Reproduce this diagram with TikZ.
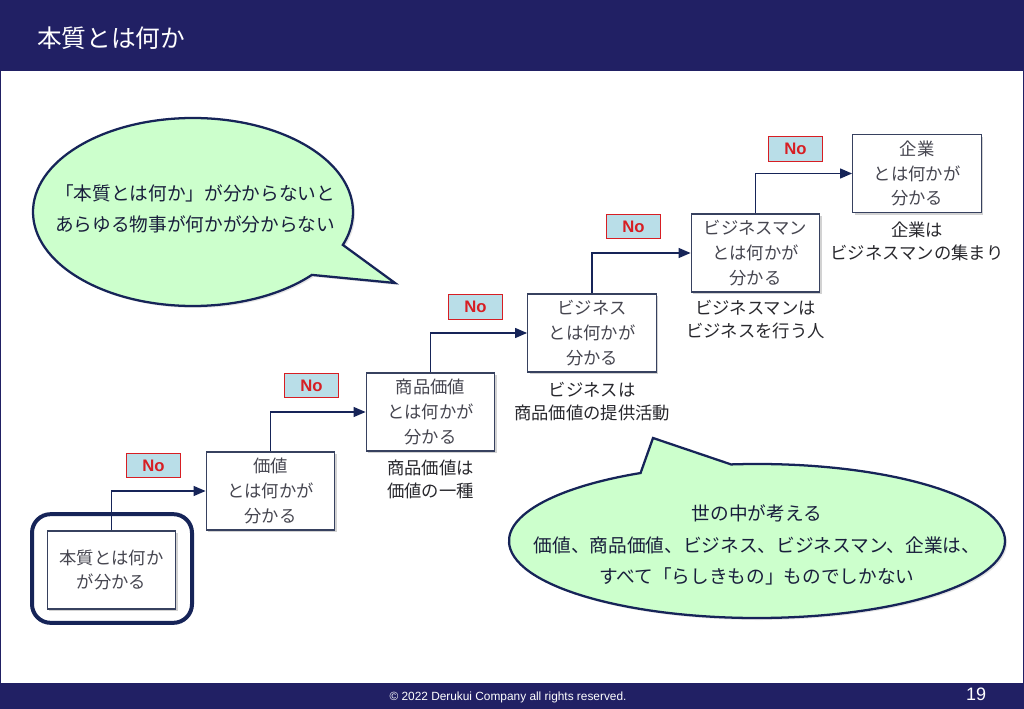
\documentclass[tikz,border=0pt]{standalone}
\usepackage{fontspec}
\setmainfont{Liberation Sans}
\newfontfamily\jp{Noto Sans CJK JP}
\usetikzlibrary{arrows.meta,shadows,calc}
\definecolor{navy}{RGB}{33,32,100}
\definecolor{linec}{RGB}{22,36,88}
\definecolor{boxline}{RGB}{55,65,95}
\definecolor{boxtext}{RGB}{70,70,80}
\definecolor{captext}{RGB}{40,40,45}
\definecolor{calltextc}{RGB}{25,30,60}
\definecolor{calfill}{RGB}{204,255,204}
\definecolor{nofill}{RGB}{185,222,232}
\definecolor{nored}{RGB}{215,30,35}
\tikzset{
  stepbox/.style={draw=boxline, line width=0.9pt, fill=white, minimum width=96.5pt, minimum height=58.5pt,
    inner sep=0pt, align=center, text=boxtext, font=\jp\fontsize{13}{18.5}\selectfont,
    drop shadow={shadow xshift=1.6pt, shadow yshift=-1.6pt, opacity=0.35}},
  nolabel/.style={draw=nored, line width=0.6pt, fill=nofill, minimum width=41pt, minimum height=18.5pt,
    inner sep=0pt, text=nored, font=\bfseries\fontsize{12.5}{14}\selectfont},
  conn/.style={draw=linec, line width=0.9pt, -{Triangle[length=9pt,width=7.5pt]}},
  capt/.style={align=center, text=captext, font=\jp\fontsize{13}{17.5}\selectfont},
  callout/.style={draw=linec, line width=1.7pt, fill=calfill, line join=miter,
    drop shadow={shadow xshift=1.5pt, shadow yshift=-1.5pt, opacity=0.2}},
  calltext/.style={align=center, text=calltextc, font=\jp\fontsize{14}{22.8}\selectfont},
}
\begin{document}
\begin{tikzpicture}[x=0.75pt,y=-0.75pt]
\useasboundingbox (0,0) rectangle (1024,709);
\fill[white] (0,0) rectangle (1024,709);
% title and footer bars
\fill[navy] (0,0) rectangle (1024,71);
\fill[navy] (0,683) rectangle (1024,709);
\draw[navy, line width=2pt] (0,0) rectangle (1024,709);
\node[anchor=west, text=white, font=\jp\fontsize{18.5}{22}\selectfont, inner sep=0pt] (title) at (37,38) {本質とは何か};
\node[text=white, font=\fontsize{8.9}{10}\selectfont, inner sep=0pt] (copy) at (508,697) {© 2022 Derukui Company all rights reserved.};
\node[text=white, font=\fontsize{13.5}{15}\selectfont, inner sep=0pt] (pno) at (976,694) {19};

% callout 1
\path[callout] ($(193,212)+(42:160 and 94)$) arc[start angle=42, end angle=380.5, x radius=160, y radius=94] -- (395,283) -- cycle;
\node[calltext] (t1) at (195,209) {「本質とは何か」が分からないと\\あらゆる物事が何かが分からない};

% callout 2
\path[callout] ($(757,541)+(264:248 and 77)$) arc[start angle=264, end angle=602, x radius=248, y radius=77] -- (653,438) -- cycle;
\node[calltext, font=\jp\fontsize{14}{23.5}\selectfont] (t2) at (757,545) {世の中が考える\\価値、商品価値、ビジネス、ビジネスマン、企業は、\\すべて「らしきもの」ものでしかない};

% highlight round rectangle
\node[draw=linec, line width=3pt, rounded corners=14pt, minimum width=120pt, minimum height=81.5pt, inner sep=0pt] (hl) at (112,568.5) {};

% boxes
\node[stepbox] (b1) at (111.5,570) {本質とは何か\\が分かる};
\node[stepbox] (b2) at (270.5,491) {価値\\とは何かが\\分かる};
\node[stepbox] (b3) at (430.5,412) {商品価値\\とは何かが\\分かる};
\node[stepbox] (b4) at (592,333) {ビジネス\\とは何かが\\分かる};
\node[stepbox] (b5) at (755.5,253) {ビジネスマン\\とは何かが\\分かる};
\node[stepbox] (b6) at (917,173.5) {企業\\とは何かが\\分かる};

% connectors
\draw[conn] (b1.north) |- (b2.west);
\draw[conn] (b2.north) |- (b3.west);
\draw[conn] (b3.north) |- (b4.west);
\draw[conn] (b4.north) |- (b5.west);
\draw[conn] (b5.north) |- (b6.west);

% No labels
\node[nolabel] (n1) at (153.5,465.5) {No};
\node[nolabel] (n2) at (311.5,385.5) {No};
\node[nolabel] (n3) at (475.5,307) {No};
\node[nolabel] (n4) at (633.5,226.5) {No};
\node[nolabel] (n5) at (795.5,149) {No};

% captions
\node[capt] (c3) at ($(b3.south)+(0,28)$) {商品価値は\\価値の一種};
\node[capt] (c4) at ($(b4.south)+(0,29)$) {ビジネスは\\商品価値の提供活動};
\node[capt] (c5) at ($(b5.south)+(0,27)$) {ビジネスマンは\\ビジネスを行う人};
\node[capt] (c6) at ($(b6.south)+(0,28)$) {企業は\\ビジネスマンの集まり};
\end{tikzpicture}
\end{document}
